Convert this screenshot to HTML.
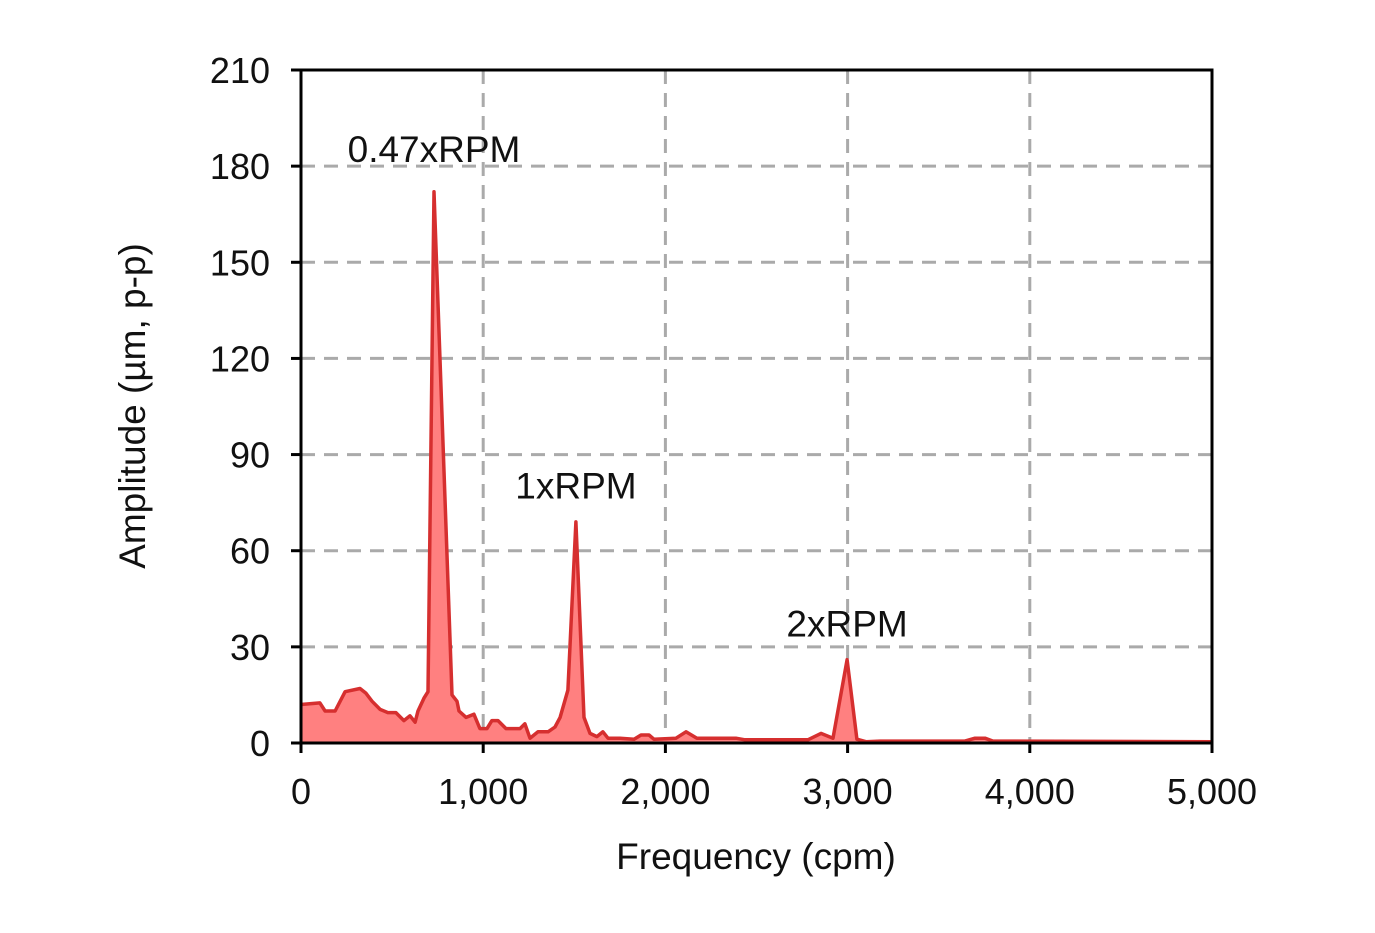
<!DOCTYPE html>
<html><head><meta charset="utf-8"><style>
html,body{margin:0;padding:0;background:#fff;}
svg{display:block;font-family:"Liberation Sans",Arial,sans-serif;}
</style></head><body>
<svg id="chart" width="1375" height="933" viewBox="0 0 1375 933" xmlns="http://www.w3.org/2000/svg">
<g id="grid"></g>
<g id="series"></g>
<g id="axes"></g>
<g id="labels"></g>
</svg>
<script>
const freqs=[0,104,132,187,242,324,357,390,434,477,521,565,598,626,642,675,697,730,829,856,867,906,949,982,1021,1048,1081,1125,1202,1229,1257,1301,1356,1394,1422,1465,1509,1553,1586,1624,1657,1685,1751,1828,1866,1910,1937,2058,2113,2173,2387,2437,2782,2854,2920,2997,3051,3101,3178,3644,3699,3754,3798,5000];
const amps=[12,12.5,10,10,16,17,15.5,13,10.5,9.5,9.5,7,8.5,6.5,10,14,16,172,15,13,10,8,9,4.5,4.5,7,7,4.5,4.5,6,1.5,3.5,3.5,5,8,16.5,69,8,3,2,3.5,1.5,1.5,1.2,2.5,2.5,1.2,1.5,3.5,1.5,1.5,1,1,3,1.5,26,1.2,0.4,0.6,0.6,1.5,1.5,0.6,0.4];
const xTicks=[0,1000,2000,3000,4000,5000];
const xTickLabels=["0","1,000","2,000","3,000","4,000","5,000"];
const yTicks=[0,30,60,90,120,150,180,210];
const annotationTexts=["0.47xRPM","1xRPM","2xRPM"];
const annotationFreqs=[730,1509,2997];
const annotationAmps=[185,80,37];

const X0=301,X1=1212,Y0=743,Y1=70;
const xs=f=>X0+(f/5000)*(X1-X0);
const ys=a=>Y0-(a/210)*(Y0-Y1);
const NS="http://www.w3.org/2000/svg";
function mk(tag,attrs,parent){const e=document.createElementNS(NS,tag);for(const k in attrs)e.setAttribute(k,attrs[k]);parent.appendChild(e);return e;}
const grid=document.getElementById('grid'),series=document.getElementById('series'),axes=document.getElementById('axes'),labels=document.getElementById('labels');

xTicks.forEach((t,i)=>{
  if(i>0&&i<xTicks.length-1){const l=mk('line',{x1:xs(t),x2:xs(t),y1:Y1,y2:Y0,stroke:'#aaa','stroke-width':3,'stroke-dasharray':'14 9'},grid);
  
  }
  const tk=mk('line',{x1:xs(t),x2:xs(t),y1:Y0,y2:Y0+10,stroke:'#000','stroke-width':3},axes);
  
  
  const tx=mk('text',{x:xs(t),y:Y0+61,'text-anchor':'middle','font-size':36,fill:'#111'},axes);
  tx.textContent=xTickLabels[i];
  
  
});
yTicks.forEach(t=>{
  if(t>0&&t<210){const l=mk('line',{x1:X0,x2:X1,y1:ys(t),y2:ys(t),stroke:'#aaa','stroke-width':3,'stroke-dasharray':'14 9'},grid);
  
  }
  const tk=mk('line',{x1:X0-10,x2:X0,y1:ys(t),y2:ys(t),stroke:'#000','stroke-width':3},axes);
  
  
  const tx=mk('text',{x:X0-31,y:ys(t)+13,'text-anchor':'end','font-size':36,fill:'#111'},axes);
  tx.textContent=String(t);
  
  
});

let pts=freqs.map((f,i)=>xs(f).toFixed(1)+','+ys(amps[i]).toFixed(1));
const area=mk('polygon',{points:xs(freqs[0])+','+Y0+' '+pts.join(' ')+' '+xs(freqs[freqs.length-1])+','+Y0,fill:'#ff8080',stroke:'none'},series);


const line=mk('polyline',{points:pts.join(' '),fill:'none',stroke:'#d62f2f','stroke-width':3.5,'stroke-linejoin':'round'},series);



const frame=mk('rect',{x:X0,y:Y1,width:X1-X0,height:Y0-Y1,fill:'none',stroke:'#000','stroke-width':3},axes);



const xt=mk('text',{x:756,y:869,'text-anchor':'middle','font-size':37,fill:'#111'},axes);
xt.textContent='Frequency (cpm)';


const yt=mk('text',{x:0,y:0,'text-anchor':'middle','font-size':37,fill:'#111',transform:'translate(145,406) rotate(-90)'},axes);
yt.textContent='Amplitude (µm, p-p)';



annotationTexts.forEach((txt,i)=>{
  const t=mk('text',{x:xs(annotationFreqs[i]),y:ys(annotationAmps[i])+12,'text-anchor':'middle','font-size':37,fill:'#111'},labels);
  t.textContent=txt;
  
  
});
</script>
</body></html>
